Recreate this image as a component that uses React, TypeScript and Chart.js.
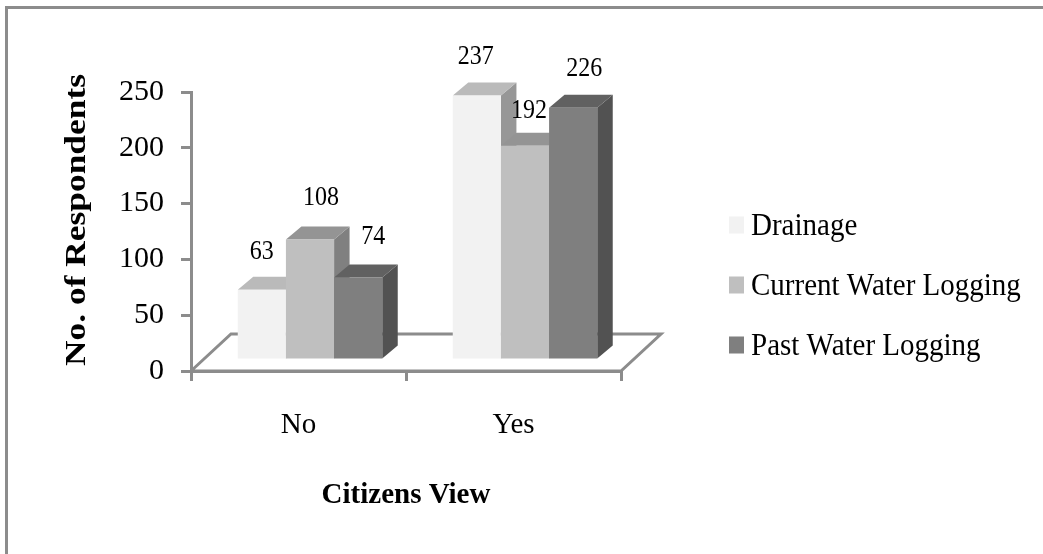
import React, { useEffect, useRef } from "react";
import { Chart, registerables } from "chart.js";

Chart.register(...registerables);

const categories = ["No", "Yes"];
const drainage = [63, 237];
const currentWaterLogging = [108, 192];
const pastWaterLogging = [74, 226];
const yTicks = [0, 50, 100, 150, 200, 250];

const SERIF = '"Liberation Serif", "Times New Roman", serif';
const AXIS_GREY = "#8c8c8c";

// Face shades for each series: front, top, side.
const shades = [
  { front: "#f2f2f2", top: "#bababa", side: "#979797" },
  { front: "#bfbfbf", top: "#949494", side: "#808080" },
  { front: "#7f7f7f", top: "#616161", side: "#525252" },
];

// Fake-3D geometry: where the bars stand on the floor, how deep they are, how deep the floor is.
const barShift = { x: 11.5, y: -11 };
const barDepth = { x: 15.5, y: 13 };
const floorDepth = { x: 40, y: -37 };

// Value labels sit by hand around the bars, so each gets its own nudge.
const labelNudges = [
  [{ x: 0, y: -38 }, { x: -1, y: -39 }],
  [{ x: 11, y: -42 }, { x: 4, y: -35 }],
  [{ x: 15, y: -41 }, { x: 11, y: -39 }],
];

// Text slightly taller than the font's natural proportions.
function tallText(
  ctx: CanvasRenderingContext2D,
  text: string,
  x: number,
  y: number,
  font: string,
  stretch: number,
  align: CanvasTextAlign = "center",
) {
  ctx.save();
  ctx.translate(x, y);
  ctx.scale(1, stretch);
  ctx.font = font;
  ctx.fillStyle = "#000";
  ctx.textAlign = align;
  ctx.textBaseline = "middle";
  ctx.fillText(text, 0, 0);
  ctx.restore();
}

const frame = {
  id: "frame",
  beforeDraw(chart: any) {
    const { ctx, width, height } = chart;
    ctx.save();
    ctx.fillStyle = AXIS_GREY;
    ctx.fillRect(5, 6, width - 5, 3);
    ctx.fillRect(5, 6, 3, height - 6);
    ctx.restore();
  },
};

function drawFloor(chart: any) {
  const { ctx, chartArea: a } = chart;
  ctx.save();
  ctx.beginPath();
  ctx.moveTo(a.left, a.bottom);
  ctx.lineTo(a.left + floorDepth.x, a.bottom + floorDepth.y);
  ctx.lineTo(a.right + floorDepth.x, a.bottom + floorDepth.y);
  ctx.lineTo(a.right, a.bottom);
  ctx.closePath();
  ctx.fillStyle = "#fff";
  ctx.fill();
  ctx.strokeStyle = AXIS_GREY;
  ctx.lineWidth = 3;
  ctx.stroke();
  ctx.restore();
}

function drawBarFaces(ctx: CanvasRenderingContext2D, bar: any, shade: { top: string; side: string }) {
  const { x, y, width, base } = bar.getProps(["x", "y", "width", "base"], true);
  const right = x + width / 2;
  const left = x - width / 2;
  ctx.fillStyle = shade.side;
  ctx.beginPath();
  ctx.moveTo(right, y);
  ctx.lineTo(right + barDepth.x, y - barDepth.y);
  ctx.lineTo(right + barDepth.x, base - barDepth.y);
  ctx.lineTo(right, base);
  ctx.closePath();
  ctx.fill();
  ctx.fillStyle = shade.top;
  ctx.beginPath();
  ctx.moveTo(left, y);
  ctx.lineTo(left + barDepth.x, y - barDepth.y);
  ctx.lineTo(right + barDepth.x, y - barDepth.y);
  ctx.lineTo(right, y);
  ctx.closePath();
  ctx.fill();
}

// Paints the series left to right, so that each bar's front covers its left neighbour's side.
const bars3d = {
  id: "bars3d",
  beforeDatasetsDraw(chart: any) {
    const { ctx } = chart;
    drawFloor(chart);
    chart.data.datasets.forEach((_: any, i: number) => {
      const meta = chart.getDatasetMeta(i);
      ctx.save();
      ctx.translate(barShift.x, barShift.y);
      meta.data.forEach((bar: any) => drawBarFaces(ctx, bar, shades[i]));
      meta.controller.draw();
      ctx.restore();
    });
    return false;
  },
};

const annotations = {
  id: "annotations",
  afterDraw(chart: any) {
    const { ctx } = chart;

    // Value labels
    chart.data.datasets.forEach((ds: any, i: number) => {
      chart.getDatasetMeta(i).data.forEach((bar: any, j: number) => {
        const { x, y } = bar.getProps(["x", "y"], true);
        const n = labelNudges[i][j];
        tallText(
          ctx,
          String(ds.data[j]),
          x + barShift.x + n.x,
          y + barShift.y + n.y,
          `24px ${SERIF}`,
          1.15,
        );
      });
    });

    // Value-axis title
    ctx.save();
    ctx.translate(78, 220);
    ctx.rotate(-Math.PI / 2);
    ctx.scale(1.22, 1);
    ctx.font = `bold 29px ${SERIF}`;
    ctx.fillStyle = "#000";
    ctx.textAlign = "center";
    ctx.textBaseline = "middle";
    ctx.fillText("No. of Respondents", 0, 0);
    ctx.restore();

    // Legend
    chart.data.datasets.forEach((ds: any, i: number) => {
      const cy = 225 + i * 60;
      ctx.fillStyle = ds.backgroundColor;
      ctx.fillRect(729, cy - 8.5, 15, 17);
      tallText(ctx, ds.label, 751, cy + 2, `29px ${SERIF}`, 1.1, "left");
    });
  },
};

export default function App() {
  const canvasRef = useRef<HTMLCanvasElement>(null);

  useEffect(() => {
    const chart = new Chart(canvasRef.current as HTMLCanvasElement, {
      type: "bar",
      data: {
        labels: categories,
        datasets: [
          { label: "Drainage", data: drainage, backgroundColor: shades[0].front },
          { label: "Current Water Logging", data: currentWaterLogging, backgroundColor: shades[1].front },
          { label: "Past Water Logging", data: pastWaterLogging, backgroundColor: shades[2].front },
        ],
      },
      options: {
        animation: false,
        responsive: false,
        devicePixelRatio: 1,
        layout: { padding: { left: 91, right: 422, top: 92, bottom: 41 } },
        datasets: { bar: { categoryPercentage: 0.672, barPercentage: 1, borderWidth: 0 } },
        plugins: { legend: { display: false }, tooltip: { enabled: false } },
        scales: {
          x: {
            afterFit(scale: any) {
              scale.height = 142;
            },
            grid: { drawOnChartArea: false, color: AXIS_GREY, lineWidth: 3, tickLength: 10 },
            border: { color: AXIS_GREY, width: 3 },
            ticks: { color: "#000", padding: 27, font: { family: SERIF, size: 29 } },
            title: {
              display: true,
              text: "Citizens View",
              color: "#000",
              padding: 0,
              font: { family: SERIF, size: 29, weight: "bold" },
            },
          },
          y: {
            min: 0,
            max: 250,
            afterFit(scale: any) {
              scale.width = 100;
            },
            afterBuildTicks(scale: any) {
              scale.ticks = yTicks.map((value) => ({ value }));
            },
            grid: { drawOnChartArea: false, color: AXIS_GREY, lineWidth: 3, tickLength: 10 },
            border: { color: AXIS_GREY, width: 3 },
            ticks: { color: "#000", padding: 17, font: { family: SERIF, size: 30 } },
          },
        },
      },
      plugins: [frame, bars3d, annotations],
    } as any);
    return () => chart.destroy();
  }, []);

  return (
    <div style={{ position: "absolute", left: 0, top: 0, width: 1043, height: 554 }}>
      <canvas ref={canvasRef} width={1043} height={554} style={{ display: "block" }} />
    </div>
  );
}
